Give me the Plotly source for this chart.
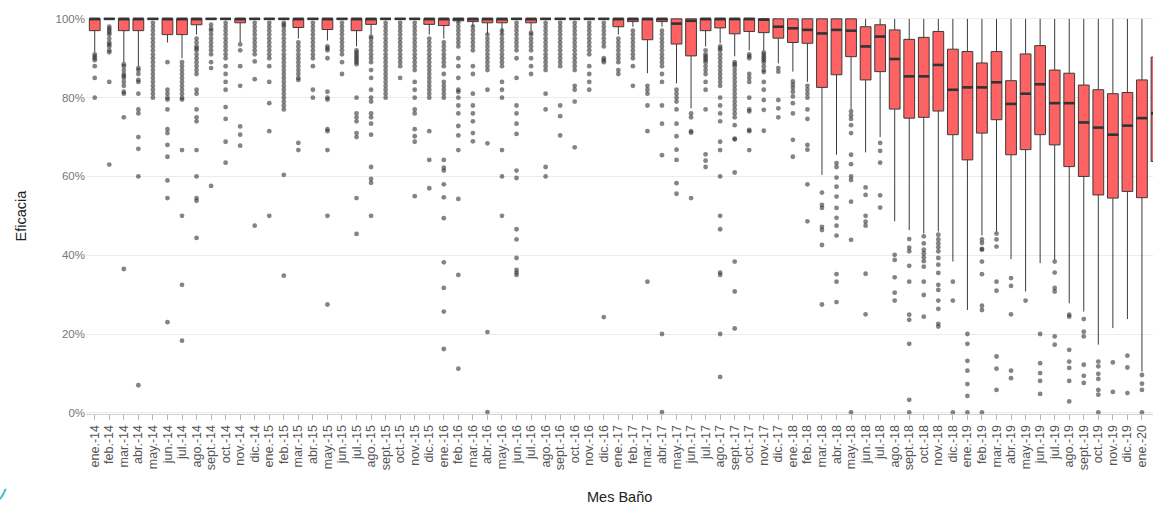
import plotly.graph_objects as go

months = ["ene.-14", "feb.-14", "mar.-14", "abr.-14", "may.-14", "jun.-14", "jul.-14", "ago.-14", "sept.-14", "oct.-14", "nov.-14", "dic.-14",
          "ene.-15", "feb.-15", "mar.-15", "abr.-15", "may.-15", "jun.-15", "jul.-15", "ago.-15", "sept.-15", "oct.-15", "nov.-15", "dic.-15",
          "ene.-16", "feb.-16", "mar.-16", "abr.-16", "may.-16", "jun.-16", "jul.-16", "ago.-16", "sept.-16", "oct.-16", "nov.-16", "dic.-16",
          "ene.-17", "feb.-17", "mar.-17", "abr.-17", "may.-17", "jun.-17", "jul.-17", "ago.-17", "sept.-17", "oct.-17", "nov.-17", "dic.-17",
          "ene.-18", "feb.-18", "mar.-18", "abr.-18", "may.-18", "jun.-18", "jul.-18", "ago.-18", "sept.-18", "oct.-18", "nov.-18", "dic.-18",
          "ene.-19", "feb.-19", "mar.-19", "abr.-19", "may.-19", "jun.-19", "jul.-19", "ago.-19", "sept.-19", "oct.-19", "nov.-19", "dic.-19",
          "ene.-20", "feb.-20"]

q1 = [97, 100, 97, 97, 100, 96, 96, 98.5, 100, 100, 99, 100,
      100, 100, 97.8, 100, 97.3, 100, 97, 98.6, 100, 100, 100, 98.6,
      98.3, 99.5, 99.3, 99, 99, 100, 99, 100, 100, 100, 100, 100,
      98, 99.3, 94.7, 99.3, 93.6, 90.6, 97, 97.7, 96.2, 96.8, 96.5, 95.1,
      94, 93.8, 82.6, 85.8, 90.4, 84.5, 86.6, 77.1, 74.8, 75, 76.6, 70.6,
      64.2, 71, 74.4, 65.5, 66.8, 70.6, 68, 62.5, 60, 55.3, 54.5, 56.2,
      54.6, 63.8]
median = [100, 100, 100, 100, 100, 100, 100, 100, 100, 100, 100, 100,
          100, 100, 100, 100, 100, 100, 100, 100, 100, 100, 100, 100,
          100, 100, 100, 100, 100, 100, 100, 100, 100, 100, 100, 100,
          100, 100, 100, 100, 98.8, 99.5, 100, 100, 100, 100, 99.8, 98,
          97.6, 97.2, 96.3, 97.2, 97, 93, 95.5, 89.8, 85.4, 85.4, 88.3, 82,
          82.6, 82.6, 83.9, 78.4, 81, 83.4, 78.6, 78.6, 73.7, 72.4, 70.6, 72.9,
          74.8, 76]
q3 = [100, 100, 100, 100, 100, 100, 100, 100, 100, 100, 100, 100,
      100, 100, 100, 100, 100, 100, 100, 100, 100, 100, 100, 100,
      100, 100, 100, 100, 100, 100, 100, 100, 100, 100, 100, 100,
      100, 100, 100, 100, 100, 100, 100, 100, 100, 100, 100, 100,
      100, 100, 100, 100, 100, 98, 98.5, 97.2, 94.8, 95.3, 96.8, 92.3,
      91.7, 88.8, 91.7, 84.3, 91.1, 93.2, 87, 86.2, 83.2, 82, 81, 81.3,
      84.5, 90.3]
lower_whisker = [91.5, 100, 89, 88, 100, 94, 90, 96, 100, 100, 94, 100,
                 100, 100, 95, 100, 94.5, 100, 93, 96, 100, 100, 100, 96,
                 95, 99, 98, 96, 96, 100, 97, 100, 100, 100, 100, 100,
                 96, 98, 86.2, 98, 83.6, 77.3, 93, 93.8, 90.5, 92, 92, 88.7,
                 86.6, 84, 60.4, 65.5, 77, 66.1, 70, 48.6, 46.4, 45.5, 46, 38.4,
                 26.1, 45, 46, 39, 30.8, 38, 38.8, 27.8, 25.7, 17.3, 21.5, 23.8,
                 10.5, 30]
upper_whisker = [100] * 74

outliers = [
    [91, 90.5, 90, 89.5, 88, 85, 80],
    [98, 97.5, 97, 96.5, 96, 95, 94, 93.5, 93, 92, 91.5, 84, 63],
    [88.5, 88, 87, 86, 85.5, 85, 84, 83, 81.5, 81, 75, 36.5],
    [87.5, 87, 86, 84.5, 84, 81, 77, 76, 70, 67, 60, 7],
    [99, 98, 97, 96, 95, 94, 93, 92, 91, 90, 89, 88, 87, 86, 85, 84, 83, 82, 81, 80],
    [89, 82, 81, 80, 79.5, 77, 72, 71, 68, 65, 59, 54.5, 23],
    [89, 88, 87, 86, 85, 84, 83, 82, 81, 80, 79.5, 66.7, 50, 32.5, 18.3],
    [95, 94, 93, 92.5, 92, 91, 90, 89, 88, 87, 86, 82, 81, 77, 75, 74, 66.7, 60, 54.5, 53.8, 44.4],
    [98.5, 97.5, 97, 96, 95, 94, 93, 92, 91, 89, 87.5, 57.6],
    [99, 98, 97, 96, 95, 94, 93, 92, 91, 90, 88, 86, 84, 82, 77.6, 74.6, 68.8, 63.5],
    [93.5, 92, 88, 83, 72.7, 70.6, 67.8],
    [99, 98, 97, 96, 95, 94, 93, 92, 91, 89.2, 84.7, 47.5],
    [99, 98, 97, 96, 95, 94, 93, 92, 91, 90, 88, 84, 78.6, 71.5, 50],
    [99, 98.5, 98, 97, 96, 95, 94, 93, 92, 91, 90, 89, 88, 87, 86, 85, 84, 83, 82, 81, 80, 79, 78, 77, 60.4, 34.8],
    [94, 93, 92, 91, 90, 89, 88, 87, 86, 85, 84.5, 68.5, 66.7],
    [99, 98, 97, 96, 95, 94, 93, 92, 91, 90, 88, 82, 80],
    [93, 92.5, 92, 90, 81.5, 80, 79.5, 72, 71.5, 66.7, 50, 27.5],
    [99, 98, 97, 96, 95, 94, 93, 92, 91, 89, 86],
    [92, 91.5, 91, 90.5, 90, 89.5, 89, 88.5, 80, 76, 75, 74, 71, 70, 54.5, 45.4],
    [95.5, 95, 94, 93, 92, 91, 90, 89, 87, 85, 82, 80, 79, 76, 75, 73.4, 70.6, 62.4, 59.4, 58.4, 50],
    [99, 98, 97, 96, 95, 94, 93, 92, 91, 90, 89, 88, 87, 86, 85, 84, 83, 82, 81, 80],
    [99, 98, 97, 96, 95, 94, 93, 92, 91, 90, 89, 88, 85],
    [99, 98, 97, 96, 95, 94, 93, 92, 91, 90, 89, 88, 87, 84, 82, 80, 77, 76, 72, 70.2, 68.8, 55],
    [95, 94, 93, 92, 91, 90, 89, 88, 87, 86, 85, 84, 83, 82, 81, 80, 71.5, 64.2, 57],
    [94, 93, 92, 91, 90, 89, 88, 86, 84, 83, 82, 81, 80, 64.2, 62.2, 61.5, 58, 54.7, 49.4, 38.2, 31.7, 25.7, 16.2],
    [99, 98, 97, 96, 95, 94, 93, 90, 88, 85, 82, 81.5, 80, 78, 76, 72.8, 70.4, 66.7, 54.3, 35, 11.2],
    [98, 97, 96, 95, 94, 93, 92, 88, 86, 81, 78, 76, 74, 71, 68.9],
    [96, 95, 94, 93, 92, 91, 90, 89, 88, 87, 82, 68.4, 20.5, 0.2],
    [97, 96, 95, 94, 93, 92, 91, 90, 89, 88, 84, 82, 80, 66.7, 60, 50],
    [99, 98, 97, 96, 95, 94, 93, 92, 90, 85, 78, 76, 73.4, 70.8, 61.5, 59.6, 46.6, 44, 39.3, 36.3, 35.6, 35],
    [96.5, 96, 95, 94, 93, 92, 90, 88, 86],
    [99, 98, 97, 96, 95, 94, 93, 92, 91, 90, 89, 88, 87, 81, 77, 62.4, 60],
    [99, 98, 97, 96, 95, 94, 93, 92, 91, 90, 89, 88, 78, 75.3, 70.4],
    [99, 98, 97, 96, 95, 94, 93, 92, 91, 90, 89, 88, 87, 83, 82, 79, 67.4],
    [99, 98, 97, 96, 95, 94, 93, 92, 91, 88, 86, 84, 82],
    [99, 98, 97, 96, 95, 94, 93, 90, 89.5, 89, 24.3],
    [95, 94, 93, 92, 91, 90, 89, 87, 86],
    [97, 96, 95, 94, 93, 92, 91, 90, 88, 83],
    [83, 82, 81, 78, 71.5, 33.3],
    [97, 96, 95, 94, 93, 92, 91, 90, 89, 88, 86, 84, 78, 73.4, 65.4, 20, 0.2],
    [82, 81, 80, 79, 77, 73.4, 70.2, 66.8, 64.2, 58.3, 55.6],
    [76, 75, 71.5, 71.1, 54.5],
    [92, 91, 90.5, 90, 89.5, 89, 88, 87, 86, 84, 82, 77, 65.6, 64, 62.4],
    [93, 92.5, 92, 91, 90, 89, 88, 87, 86, 85, 84, 83, 80, 78, 76, 74, 68.8, 66.7, 60, 50, 46.6, 35.6, 35, 20, 9.1],
    [89, 88.5, 88, 87, 86, 85, 84, 83, 82, 81, 80, 79, 78, 77, 76, 75, 73, 69.6, 69.4, 61, 38.4, 30.8, 21.4],
    [91, 90.5, 90, 86, 85, 84, 80, 77, 76.5, 71.8, 71.5, 66.7],
    [91.5, 91, 90.5, 90, 89.5, 89, 88, 87, 86.5, 84, 82, 79.4, 76.9, 71.6],
    [87.5, 86.6, 79.4, 77.3, 75],
    [84.1, 83.3, 82.5, 81.5, 80.3, 78.6, 76, 69.3, 65],
    [83, 82, 81, 80, 77, 74.6, 68, 66.8, 58, 48.6],
    [55.9, 52.8, 52, 47.2, 46.4, 42.6, 27.5],
    [63.4, 62.4, 59.7, 57.4, 54.9, 52, 49.5, 47.5, 45, 35.2, 33.3, 28.1],
    [76.5, 75.5, 74.6, 73, 71, 65.5, 63.1, 60, 59.1, 53.6, 43.9, 0.1],
    [57.2, 55.3, 50, 48.5, 47.5, 35.3, 25],
    [68.5, 66.5, 63.5, 55.2, 52.1],
    [40.1, 38.8, 34.4, 30.5, 28.5],
    [44.1, 41.9, 41, 37.3, 33.3, 24.9, 23.6, 17.5, 3.3, 0.1],
    [44.8, 43, 41.4, 40.5, 39.5, 38.5, 37.1, 33.3, 29.9, 24.4],
    [45.2, 44, 43, 42, 41, 39.3, 37.6, 35.5, 32.5, 31.2, 28.5, 26.4, 22.6, 21.9],
    [33.3, 28.5, 0.1],
    [20, 17.5, 13.2, 10.7, 7.3, 4.3, 0.1],
    [44, 43.1, 41.6, 41.4, 38.4, 35.2, 27.2, 26.1, 0.1],
    [45.5, 44, 42.2, 33.3, 31, 14.3, 11.2, 5.8],
    [34.2, 32.2, 25, 10.7, 8.8],
    [28.5],
    [20, 12.6, 10.1, 8.1, 4.8],
    [38.4, 35.6, 31.7, 30.8, 19.4, 17.3],
    [24.9, 24.4, 16, 13, 11.4, 8.1, 2.9],
    [23.8, 20.6, 19.4, 12.2, 9.4, 7.6],
    [13, 11.8, 9.9, 8.6, 5.8, 4.6, 0.1],
    [12.8, 5.3],
    [14.5, 11.5, 5],
    [9.6, 7.4, 5.8, 0.1],
    [],
]

y_ticks = [0, 20, 40, 60, 80, 100]
y_tick_labels = ["0%", "20%", "40%", "60%", "80%", "100%"]

FONT = "Liberation Sans, Arial, sans-serif"
BOX_W = 0.74
pos = list(range(len(months)))

fig = go.Figure()

fig.add_trace(go.Box(
    x=pos, q1=q1, median=median, q3=q3,
    lowerfence=lower_whisker, upperfence=upper_whisker,
    width=BOX_W, whiskerwidth=0, boxpoints=False,
    fillcolor="#FF6262", line=dict(color="#3c3c3c", width=1),
    showlegend=False, hoverinfo="skip",
))

# thicker median bars (ggplot style)
mx, my = [], []
for i, m in zip(pos, median):
    mx += [i - BOX_W / 2, i + BOX_W / 2, None]
    my += [m, m, None]
fig.add_trace(go.Scatter(x=mx, y=my, mode="lines",
                         line=dict(color="#333333", width=2.6),
                         showlegend=False, hoverinfo="skip"))

ox, oy = [], []
for i, vals in zip(pos, outliers):
    for v in vals:
        ox.append(i)
        oy.append(v)
fig.add_trace(go.Scatter(x=ox, y=oy, mode="markers",
                         marker=dict(size=4.8, color="rgba(50,50,50,0.6)"),
                         cliponaxis=False, showlegend=False, hoverinfo="skip"))

fig.update_layout(
    width=1153, height=506,
    margin=dict(l=86, r=0, t=9, b=92),
    paper_bgcolor="white", plot_bgcolor="white",
    font=dict(family=FONT),
    xaxis=dict(
        range=[-0.6, 72.76], tickmode="array", tickvals=pos, ticktext=months,
        tickangle=-90, tickfont=dict(size=12.5, color="#555555", family=FONT),
        ticks="outside", ticklen=5, tickcolor="#b5b5b5", tickwidth=1,
        showgrid=False, zeroline=False,
        showline=True, linecolor="#cfcfcf", linewidth=1,
    ),
    yaxis=dict(
        range=[-0.3, 102.5], tickmode="array", tickvals=y_ticks, ticktext=y_tick_labels,
        tickfont=dict(size=11.5, color="#777777", family=FONT),
        showgrid=True, gridcolor="#ececec", gridwidth=1,
        zeroline=False, showline=False, ticks="",
    ),
    annotations=[
        dict(text="Mes Baño", xref="paper", yref="paper", x=0.5, y=-0.204,
             xanchor="center", yanchor="middle", showarrow=False,
             font=dict(size=14.5, color="#222222", family=FONT)),
        dict(text="Eficacia", xref="paper", yref="paper", x=-0.061, y=0.49,
             xanchor="center", yanchor="middle", showarrow=False, textangle=-90,
             font=dict(size=14.5, color="#222222", family=FONT)),
    ],
    shapes=[
        dict(type="path", xref="paper", yref="paper",
             path="M -0.0806 -0.21 Q -0.0775 -0.2 -0.0752 -0.185",
             line=dict(color="#3DBFCF", width=2)),
    ],
)

fig.write_html("out.html",
               config={"displayModeBar": False},
               post_script="document.body.style.margin='0px';document.body.style.overflow='hidden';")
